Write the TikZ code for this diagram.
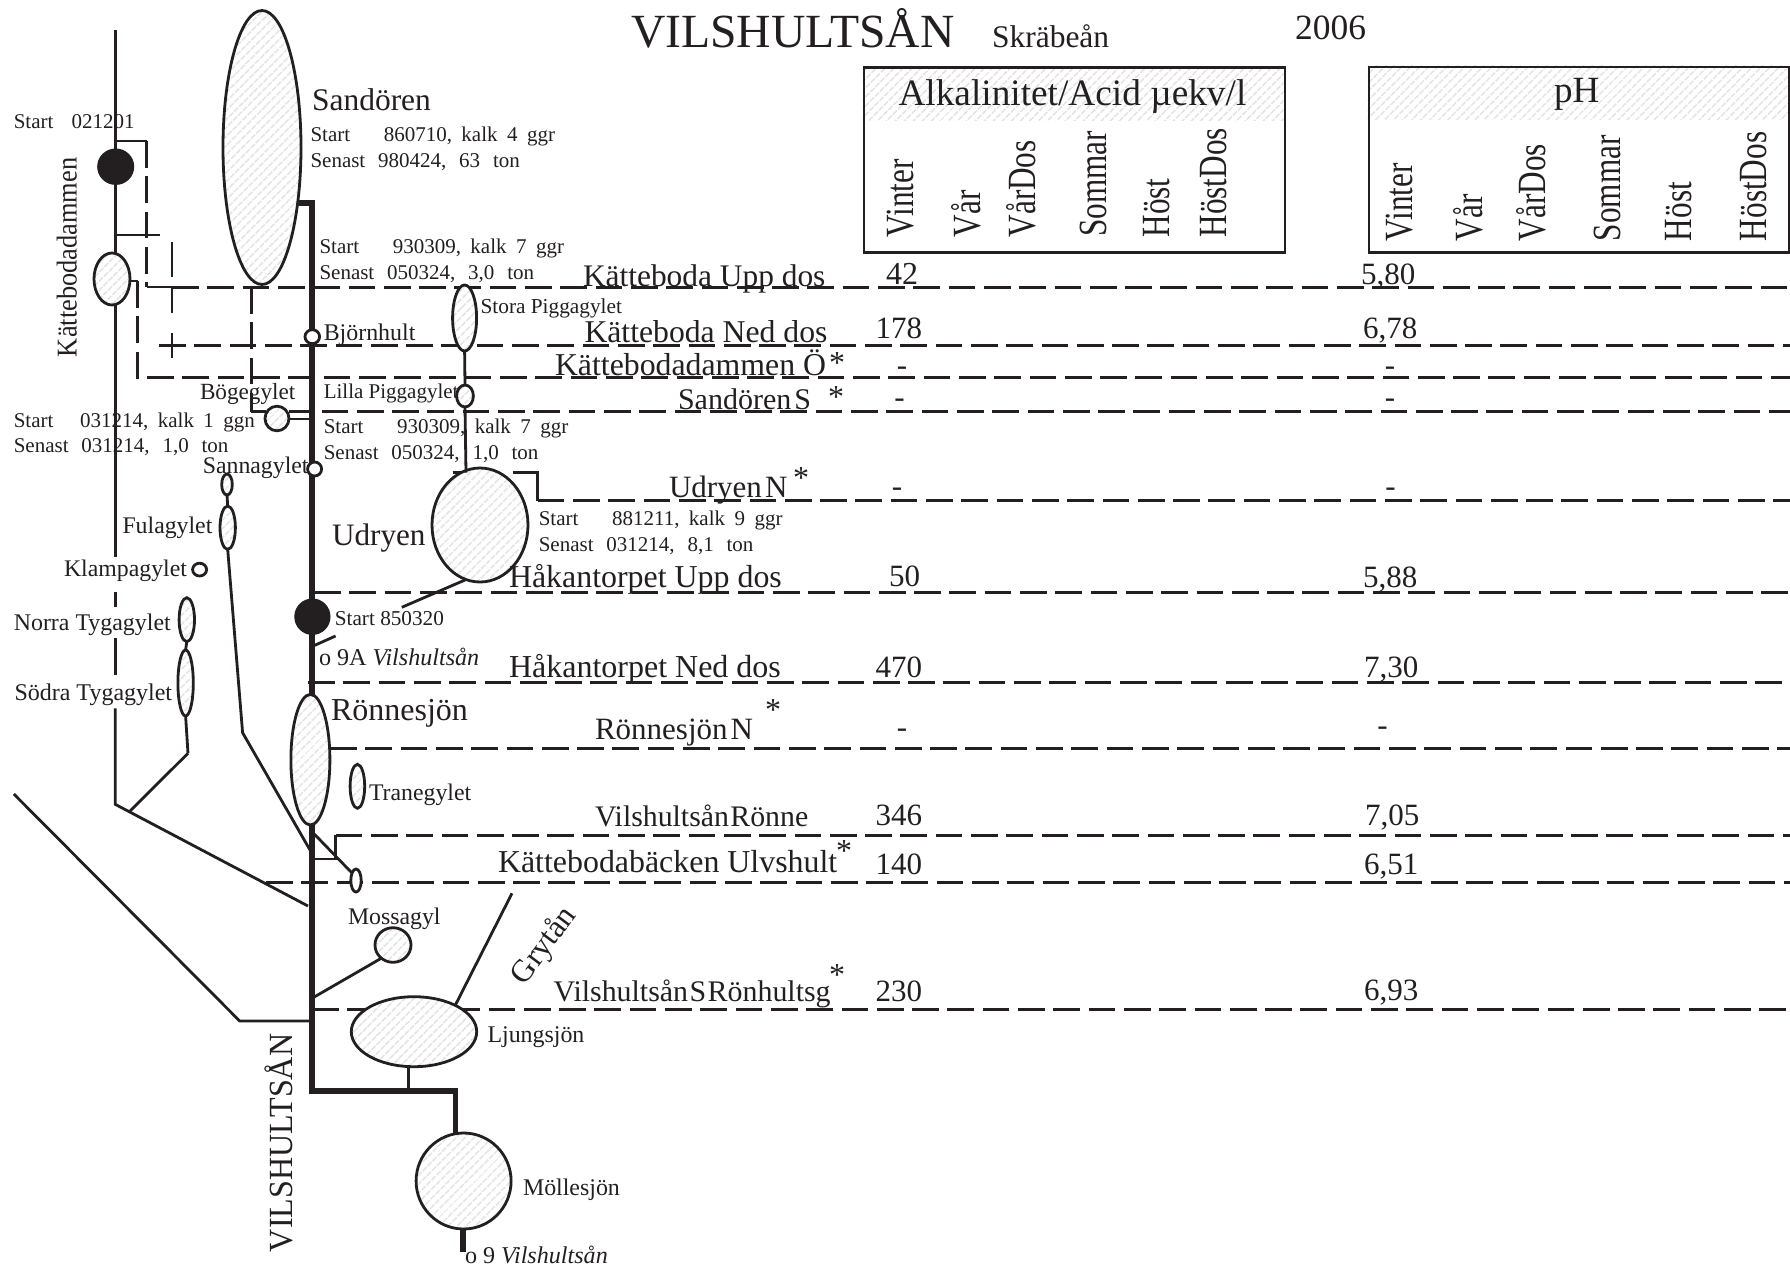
\documentclass[tikz,border=0pt]{standalone}
\usepackage{fontspec}
\setmainfont{Liberation Serif}
\usetikzlibrary{shapes.geometric,patterns.meta}
\definecolor{ink}{HTML}{231F20}
\definecolor{hatchgray}{HTML}{E4E4E4}
\newcommand\tx[5]{\node (#1) [txt,font=\fontsize{#4}{#4}\selectfont] at (#2,#3) {#5};}
\newcommand\tc[5]{\node (#1) [txt,anchor=base,font=\fontsize{#4}{#4}\selectfont] at (#2,#3) {#5};}
\newcommand\nt[4]{\node (#1) [txt,font=\fontsize{21}{21}\selectfont] at (#2,#3) {\spaceskip=.45em\relax #4};}
\newcommand\ns[4]{\node (#1) [txt,font=\fontsize{21}{21}\selectfont] at (#2,#3) {\spaceskip=.61em\relax #4};}
\newcommand\rt[6]{\node (#1) [txt,rotate=90,font=\fontsize{#4}{#4}\selectfont] at (#2,#3) {\scalebox{#5}[1]{#6}};}
\newcommand\lake[5]{\node (#1) [lakeshape,minimum width=2*#4,minimum height=2*#5] at (#2,#3) {};}
\newcommand\pond[5]{\node (#1) [pondshape,minimum width=2*#4,minimum height=2*#5] at (#2,#3) {};}
\tikzset{
  txt/.style={anchor=base west,inner sep=0pt,outer sep=0pt,text=ink},
  thin river/.style={draw=ink,line width=2.8pt},
  thick river/.style={draw=ink,line width=5.5pt},
  dashrow/.style={draw=ink,line width=3pt,dash pattern=on 26.7pt off 8.6pt},
  hatchfill/.style={pattern={Lines[angle=45,distance=6.4pt,line width=2pt]},pattern color=hatchgray},
  lakeshape/.style={ellipse,draw=ink,line width=2.8pt,inner sep=0pt,outer sep=0pt,preaction={fill=white},hatchfill},
  pondshape/.style={ellipse,draw=ink,line width=2.8pt,inner sep=0pt,outer sep=0pt,fill=white},
  blackdot/.style={ellipse,draw=ink,fill=ink,line width=1pt,inner sep=0pt,outer sep=0pt},
}
\begin{document}
\begin{tikzpicture}[x=1pt,y=-1pt]
\useasboundingbox (0,0) rectangle (1790,1266);

% junction coordinates
\coordinate (ltop) at (115.2,30);
\coordinate (l1a) at (115.2,556.7);
\coordinate (l2a) at (115.2,591.7);
\coordinate (l2b) at (115.2,606.7);
\coordinate (l3a) at (115.2,638.3);
\coordinate (l3b) at (115.2,675);
\coordinate (l4a) at (115.2,708.3);
\coordinate (lbot) at (115.2,804.3);
\coordinate (a141) at (115.2,141);
\coordinate (b141) at (146.6,141);
\coordinate (a235) at (115.2,235);
\coordinate (b235) at (160,235);
\coordinate (c287) at (146.6,287);
\coordinate (d287) at (172,287);
\coordinate (e287) at (1790,287);
\coordinate (v172a) at (172,242);
\coordinate (v172b) at (172,277);
\coordinate (v172c) at (172,287);
\coordinate (v172d) at (172,313);
\coordinate (v172e) at (172,333);
\coordinate (v172f) at (172,358);
\coordinate (s345) at (159,345.7);
\coordinate (e345) at (1790,345.7);
\coordinate (k281a) at (128,281);
\coordinate (k281b) at (137.8,281);
\coordinate (k378) at (137.8,377.7);
\coordinate (e378) at (1790,377.7);
\coordinate (st1) at (298.5,203);
\coordinate (st2) at (312,203);
\coordinate (tk1) at (312,1091);
\coordinate (tk2) at (455.4,1091);
\coordinate (tk3) at (455.4,1140);
\coordinate (v251t) at (251.4,287);
\coordinate (v251b) at (251.4,411.5);
\coordinate (bg1) at (266,411.5);
\coordinate (bg2) at (289,411.5);
\coordinate (bg3) at (312,411.5);
\coordinate (bg4) at (289,419);
\coordinate (bg5) at (312,419);
\coordinate (s411) at (321.5,411);
\coordinate (e411) at (1790,411);
\coordinate (t1) at (452.7,472.7);
\coordinate (t2) at (478,472.7);
\coordinate (t3) at (513,472.7);
\coordinate (t4) at (537.7,472.7);
\coordinate (t5) at (537.7,500.7);
\coordinate (e500) at (1790,500.7);
\coordinate (p466) at (466,472.7);
\coordinate (fula2) at (242.6,732.7);
\coordinate (fula3) at (310,850);
\coordinate (tyg1) at (188,753.3);
\coordinate (tyg2) at (130,811);
\coordinate (mainl) at (308,906);
\coordinate (far1) at (13.8,794);
\coordinate (far2) at (239.7,1021);
\coordinate (far3) at (309,1021);
\coordinate (s592) at (314,592);
\coordinate (e592) at (1790,592);
\coordinate (u1) at (465,580);
\coordinate (u2) at (401.8,607.3);
\coordinate (o1) at (335.6,636);
\coordinate (o2) at (313.8,645.7);
\coordinate (s682) at (308,682.3);
\coordinate (e682) at (1790,682.3);
\coordinate (s748) at (330,748.7);
\coordinate (e748) at (1790,748.7);
\coordinate (s835) at (335.6,835);
\coordinate (e835) at (1790,835);
\coordinate (c859) at (335.6,859);
\coordinate (m859) at (312,859);
\coordinate (rv1) at (312,831.7);
\coordinate (rv2) at (352,873);
\coordinate (s882) at (266,882.3);
\coordinate (e882) at (1790,882.3);
\coordinate (m1) at (381.7,958);
\coordinate (m2) at (312.5,998);
\coordinate (s1009) at (312,1009);
\coordinate (e1009) at (1790,1009);
\coordinate (lj1) at (455.4,1005);
\coordinate (lj2) at (512,893.3);
\coordinate (lj3) at (408.5,1065);
\coordinate (lj4) at (408.5,1091);
\coordinate (mo1) at (463,1227);
\coordinate (mo2) at (463,1252);

% dashed rows
\path[dashrow] (b141) -- (c287);
\path[thin river] (c287) -- (d287);
\path[dashrow] (d287) -- (e287);
\path[thin river] (v172a) -- (v172b);
\path[thin river] (v172c) -- (v172d);
\path[thin river] (v172e) -- (v172f);
\path[dashrow] (s345) -- (e345);
\path[dashrow] (k281b) -- (k378) -- (e378);
\path[dashrow] (v251t) -- (v251b);
\path[dashrow] (s411) -- (e411);
\path[dashrow] (t5) -- (e500);
\path[dashrow] (s592) -- (e592);
\path[dashrow] (s682) -- (e682);
\path[dashrow] (s748) -- (e748);
\path[dashrow] (s835) -- (e835);
\path[dashrow] (s882) -- (e882);
\path[dashrow] (s1009) -- (e1009);

% thin lines
\path[thin river] (ltop) -- (l1a);
\path[thin river] (l2a) -- (l2b);
\path[thin river] (l3a) -- (l3b);
\path[thin river] (l4a) -- (lbot) -- (mainl);
\path[thin river] (a141) -- (b141);
\path[thin river] (a235) -- (b235);
\path[thin river] (k281a) -- (k281b);
\path[thin river] (v251b) -- (bg1);
\path[thin river] (bg2) -- (bg3);
\path[thin river] (bg4) -- (bg5);
\path[thin river] (t1) -- (t2);
\path[thin river] (t3) -- (t4) -- (t5);
\path[thin river] (tyg1) -- (tyg2);
\path[thin river] (far1) -- (far2) -- (far3);
\path[thin river] (u1) -- (u2);
\path[thin river] (o1) -- (o2);
\path[thin river] (s835) -- (c859) -- (m859);
\path[thin river] (rv1) -- (rv2);
\path[thin river] (m1) -- (m2);
\path[thin river] (lj1) -- (lj2);
\path[thin river] (lj3) -- (lj4);

% thick main river
\path[thick river] (st1) -- (st2) -- (tk1) -- (tk2) -- (tk3);
\path[thick river] (mo1) -- (mo2);

% lakes
\lake{sandoren}{262}{147.5}{39}{137}
\lake{kdamm}{112}{279}{18}{26}
\lake{storap}{464.6}{318}{12}{33}
\lake{lillap}{465}{396}{8.4}{11}
\lake{boge}{277}{418.5}{12}{12.3}
\lake{udryen}{480}{525}{48}{57}
\lake{sannag}{227}{484.5}{5.3}{10.5}
\lake{fulag}{227.7}{527.7}{7.7}{21.7}
\lake{norrat}{186.8}{619.7}{7.7}{22}
\lake{sodrat}{185.6}{683}{7.7}{33}
\lake{ronne}{310.4}{759.7}{19.5}{65.3}
\lake{trane}{357.4}{786.3}{7.3}{22}
\lake{mossa}{393}{945}{18}{17.3}
\lake{ljung}{414}{1031.7}{62.7}{35}
\lake{molle}{463.6}{1181}{47.5}{48}
\pond{bjorn}{312.3}{336.7}{7.3}{7}
\pond{sanna}{314.6}{469}{7}{7}
\pond{klamp}{199.6}{569.6}{7}{6.4}
\pond{ulvs}{356}{880.5}{5.2}{11.5}
\node (dot1) [blackdot,minimum width=36,minimum height=35.4] at (115.7,166.7) {};
\node (dot2) [blackdot,minimum width=35.2,minimum height=35.4] at (312.4,616.7) {};

% connectors between lakes
\path[thin river] (storap.south) -- (lillap.north);
\path[thin river] (lillap.south) -- (p466);
\path[thin river] (sannag.south) -- (fulag.north);
\path[thin river] (fulag.south) -- (fula2) -- (fula3);
\path[thin river] (norrat.south) -- (sodrat.north);
\path[thin river] (sodrat.south) -- (tyg1);

% tables
\node (alkhead) [hatchfill,minimum width=421,minimum height=54,anchor=north west,inner sep=0pt] at (862.5,66) {};
\node (phhead) [hatchfill,minimum width=420.5,minimum height=54,anchor=north west,inner sep=0pt] at (1367.5,65.5) {};
\node (alkbox) [draw=ink,line width=2.8pt,minimum width=421,minimum height=185.3,anchor=north west,inner sep=0pt] at (862.5,66) {};
\node (phbox) [draw=ink,line width=2.8pt,minimum width=420.5,minimum height=185.3,anchor=north west,inner sep=0pt] at (1367.5,65.5) {};

% headings
\tx{title}{631}{47}{47.6}{VILSHULTSÅN}
\tx{skrabe}{992}{47}{31.5}{Skräbeån}
\tx{year}{1295}{39}{35.5}{2006}
\tx{alkt}{898.5}{105}{37.3}{Alkalinitet/Acid µekv/l}
\tx{pht}{1554}{102}{37}{pH}

\rt{a1}{913.6}{237.3}{40}{.78}{Vinter}
\rt{a2}{980}{237.3}{40}{.78}{Vår}
\rt{a3}{1035.5}{237.3}{40}{.78}{VårDos}
\rt{a4}{1106}{236.5}{40}{.78}{Sommar}
\rt{a5}{1169}{237.3}{40}{.78}{Höst}
\rt{a6}{1226}{237.3}{40}{.78}{HöstDos}
\rt{p1}{1412}{241}{40}{.78}{Vinter}
\rt{p2}{1482}{241}{40}{.78}{Vår}
\rt{p3}{1545}{241}{40}{.78}{VårDos}
\rt{p4}{1620.7}{241}{40}{.78}{Sommar}
\rt{p5}{1691}{241}{40}{.78}{Höst}
\rt{p6}{1766}{241}{40}{.78}{HöstDos}

% station names
\tx{r1}{583}{286}{31.4}{Kätteboda Upp dos}
\tx{r2}{584.5}{342}{31.7}{Kätteboda Ned dos}
\tx{r3}{555}{375}{31.8}{Kättebodadammen Ö}
\tx{r4}{678}{409}{30}{Sandören\hspace{.1em}S}
\tx{r5}{669}{497}{31}{Udryen\hspace{.1em}N}
\tx{r6}{509}{587.5}{31.9}{Håkantorpet Upp dos}
\tx{r7}{509}{677}{32}{Håkantorpet Ned dos}
\tx{r8}{595}{739}{31}{Rönnesjön\hspace{.1em}N}
\tx{r9}{595}{826.5}{29.8}{Vilshultsån\hspace{.05em}Rönne}
\tx{r10}{498}{872}{31.9}{Kättebodabäcken Ulvshult}
\tx{r11}{553.7}{1001}{29.9}{Vilshultsån\hspace{.05em}S\hspace{.05em}Rönhultsg}
\tc{s3}{837}{373.5}{32}{*}
\tc{s4}{836}{407.5}{32}{*}
\tc{s5}{801}{488.5}{32}{*}
\tc{s8}{773}{720.5}{32}{*}
\tc{s10}{844}{861.5}{32}{*}
\tc{s11}{837}{985.5}{32}{*}

% values
\tx{v1}{886}{284}{32}{42}
\tx{w1}{1361}{284}{31}{5,80}
\tx{v2}{875.6}{338}{31}{178}
\tx{w2}{1363}{338}{31}{6,78}
\tc{v3}{902}{375}{31}{-}
\tc{w3}{1390}{375}{31}{-}
\tc{v4}{899.6}{407}{31}{-}
\tc{w4}{1390}{407}{31}{-}
\tc{v5}{897}{496}{31}{-}
\tc{w5}{1390.5}{496}{31}{-}
\tx{v6}{889}{586}{31}{50}
\tx{w6}{1363}{587}{31}{5,88}
\tx{v7}{875.6}{677}{31}{470}
\tx{w7}{1364}{677}{31}{7,30}
\tc{v8}{902}{737}{31}{-}
\tc{w8}{1382.5}{735}{31}{-}
\tx{v9}{875.6}{825.5}{31}{346}
\tx{w9}{1365}{825.5}{31}{7,05}
\tx{v10}{875.6}{874}{31}{140}
\tx{w10}{1364}{874}{31}{6,51}
\tx{v11}{875.6}{1001}{31}{230}
\tx{w11}{1364}{1000}{31}{6,93}

% notes
\nt{na}{13.8}{128.3}{Start\hspace{.86em}021201}
\nt{nb1}{310.5}{141.7}{Start\hspace{1.6em}860710, kalk 4 ggr}
\ns{nb2}{310.5}{167.7}{Senast 980424, 63 ton}
\nt{nc1}{319.5}{253}{Start\hspace{1.6em}930309, kalk 7 ggr}
\ns{nc2}{319.5}{279}{Senast 050324, 3,0 ton}
\nt{nd1}{13.8}{427}{Start\hspace{1.27em}031214, kalk 1 ggn}
\ns{nd2}{13.8}{452.7}{Senast 031214, 1,0 ton}
\nt{ne1}{323.8}{433}{Start\hspace{1.6em}930309, kalk 7 ggr}
\ns{ne2}{323.8}{459}{Senast 050324, 1,0 ton}
\nt{nf1}{538.8}{525.5}{Start\hspace{1.6em}881211, kalk 9 ggr}
\ns{nf2}{538.8}{551.7}{Senast 031214, 8,1 ton}

% place names
\tx{lsand}{312}{110}{31.5}{Sandören}
\tx{lstora}{480.6}{313.3}{21.3}{Stora Piggagylet}
\tx{lbjorn}{323.8}{340.7}{23.9}{Björnhult}
\tx{llilla}{323.8}{398}{21}{Lilla Piggagylet}
\tx{lboge}{200}{399}{23.2}{Bögegylet}
\tx{lsanna}{202.8}{473}{23.8}{Sannagylet}
\tx{ludry}{332}{545.7}{31.2}{Udryen}
\tx{lfula}{122.5}{533.7}{23.8}{Fulagylet}
\tx{lklamp}{64}{576.7}{23.8}{Klampagylet}
\tx{lnorra}{13.8}{630}{23.9}{Norra Tygagylet}
\tx{lsodra}{14.5}{700}{24}{Södra Tygagylet}
\tx{lstart}{334.9}{625.7}{21.2}{Start 850320}
\tx{lninea}{319}{665}{24.1}{o 9A \textit{Vilshultsån}}
\tx{lronne}{331}{720.7}{32}{Rönnesjön}
\tx{ltrane}{369}{800.3}{23.8}{Tranegylet}
\tx{lmossa}{348}{924}{23.8}{Mossagyl}
\tx{lljung}{487.5}{1042.7}{23.9}{Ljungsjön}
\tx{lmolle}{523}{1195}{23.9}{Möllesjön}
\tx{lnine}{465}{1263}{24.1}{o 9 \textit{Vilshultsån}}
\node (lgryt) [txt,rotate=53,font=\fontsize{31.5}{31.5}\selectfont] at (524.5,986) {Grytån};
\rt{lkdamm}{76.5}{357}{28.7}{.92}{Kättebodadammen}
\rt{lvils}{292.4}{1252}{33.8}{.95}{VILSHULTSÅN}
\end{tikzpicture}
\end{document}
